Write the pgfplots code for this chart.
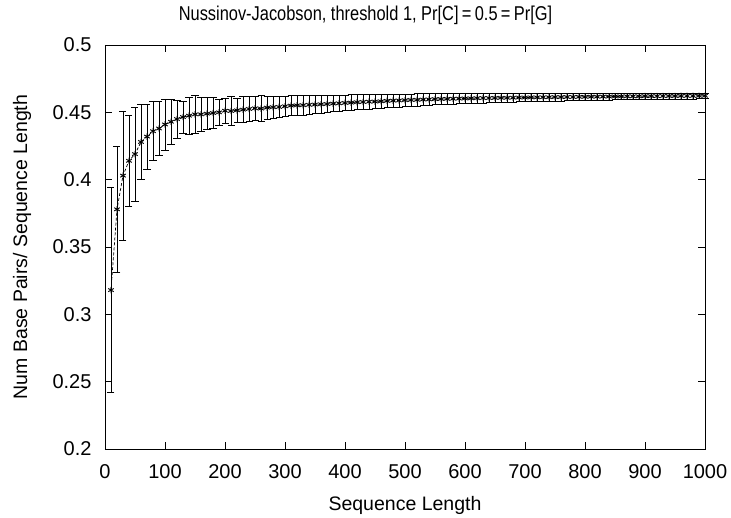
\documentclass[border=0pt]{standalone}
\usepackage{pgfplots}
\pgfplotsset{compat=1.18}
\usepackage{pgfplotstable}
\usepackage{fontspec}
\setmainfont{Liberation Sans}
\newfontfamily\titlefont{Liberation Sans}[FakeStretch=0.82]
\pgfplotstableread{
x y e
10 0.318 0.076
20 0.378 0.047
30 0.403 0.048
40 0.414 0.034
50 0.419 0.035
60 0.428 0.028
70 0.432 0.024
80 0.436 0.022
90 0.438 0.020
100 0.441 0.019
110 0.443 0.017
120 0.445 0.014
130 0.4465 0.012
140 0.4475 0.0135
150 0.4485 0.0138
160 0.4485 0.0125
170 0.449 0.012
180 0.4495 0.0115
190 0.450 0.010
200 0.4512 0.0095
210 0.451 0.0105
220 0.4515 0.009
230 0.452 0.0098
240 0.4525 0.0092
250 0.453 0.0088
260 0.4528 0.0096
270 0.4535 0.0085
280 0.4538 0.0082
290 0.454 0.0080
300 0.4545 0.0076
310 0.455 0.0075
320 0.4552 0.0071
330 0.4553 0.0074
340 0.4556 0.0070
350 0.4558 0.0068
360 0.4560 0.0066
370 0.4562 0.0064
380 0.4565 0.0061
390 0.4567 0.0060
400 0.4570 0.0058
410 0.4572 0.0058
420 0.4575 0.0056
430 0.4577 0.0055
440 0.4579 0.0054
450 0.4580 0.0052
460 0.4582 0.0052
470 0.4585 0.0050
480 0.4587 0.0050
490 0.4588 0.0048
500 0.4590 0.0047
510 0.4592 0.0045
520 0.4593 0.0045
530 0.4595 0.0044
540 0.4596 0.0043
550 0.4598 0.0042
560 0.4599 0.0041
570 0.4600 0.0040
580 0.4601 0.0040
590 0.4602 0.0039
600 0.4603 0.0038
610 0.4604 0.0037
620 0.4605 0.0036
630 0.4606 0.0036
640 0.4606 0.0035
650 0.4607 0.0034
660 0.4608 0.0034
670 0.4608 0.0033
680 0.4609 0.0033
690 0.4610 0.0032
700 0.4610 0.0032
710 0.4611 0.0031
720 0.4611 0.0031
730 0.4612 0.0030
740 0.4612 0.0030
750 0.4613 0.0029
760 0.4613 0.0029
770 0.4614 0.0028
780 0.4614 0.0028
790 0.4615 0.0028
800 0.4615 0.0027
810 0.4616 0.0027
820 0.4616 0.0026
830 0.4617 0.0026
840 0.4617 0.0026
850 0.4618 0.0025
860 0.4618 0.0025
870 0.4619 0.0025
880 0.4619 0.0024
890 0.4619 0.0024
900 0.4620 0.0024
910 0.4620 0.0023
920 0.4620 0.0023
930 0.4621 0.0023
940 0.4621 0.0023
950 0.4621 0.0022
960 0.4622 0.0022
970 0.4622 0.0022
980 0.4622 0.0022
990 0.4623 0.0021
1000 0.4623 0.0021
}\datatable
\begin{document}
\begin{tikzpicture}
\begin{axis}[
  name=ax,
  at={(0,0)}, anchor=south west,
  scale only axis,
  width=600bp, height=404bp,
  xmin=0, xmax=1000, ymin=0.2, ymax=0.5,
  xtick={0,100,...,1000},
  ytick={0.2,0.25,0.3,0.35,0.4,0.45,0.5},
  yticklabels={0.2,0.25,0.3,0.35,0.4,0.45,0.5},
  /pgf/number format/1000 sep={},
  /pgf/number format/assume math mode=true,
  tick align=inside,
  major tick length=7bp,
  tick style={black, line width=0.7bp},
  axis line style={black, line width=0.9bp},
  ticklabel style={font=\fontsize{20bp}{23bp}\selectfont},
  xticklabel style={anchor=base, yshift=-30bp},
  yticklabel style={xshift=-10bp},
  xlabel={Sequence Length},
  ylabel={Num Base Pairs/ Sequence Length},
  label style={font=\fontsize{19.5bp}{22bp}\selectfont},
  xlabel style={at={(axis description cs:0.5,-0.1386)}, anchor=center},
  ylabel style={at={(axis description cs:-0.1383,0.5)}, anchor=center},
  clip=false,
]
\addplot+[
  black, densely dashed, line width=0.7bp,
  mark=asterisk, mark size=3.2bp,
  mark options={solid, black, line width=0.9bp},
  error bars/.cd, y dir=both, y explicit,
  error bar style={black, solid, line width=0.7bp},
  error mark options={rotate=90, mark size=3.5bp, black, solid, line width=0.7bp},
] table[x=x, y=y, y error=e] {\datatable};
\end{axis}
\node[anchor=base, font=\titlefont\fontsize{20bp}{23bp}\selectfont] at ([shift={(-39.5bp,24.3bp)}]ax.north) {Nussinov-Jacobson, threshold 1, Pr[C]\,=\,0.5\,=\,Pr[G]};
\path ([shift={(-105bp,-69bp)}]ax.south west) rectangle ([shift={(26bp,45bp)}]ax.north east);
\end{tikzpicture}
\end{document}
